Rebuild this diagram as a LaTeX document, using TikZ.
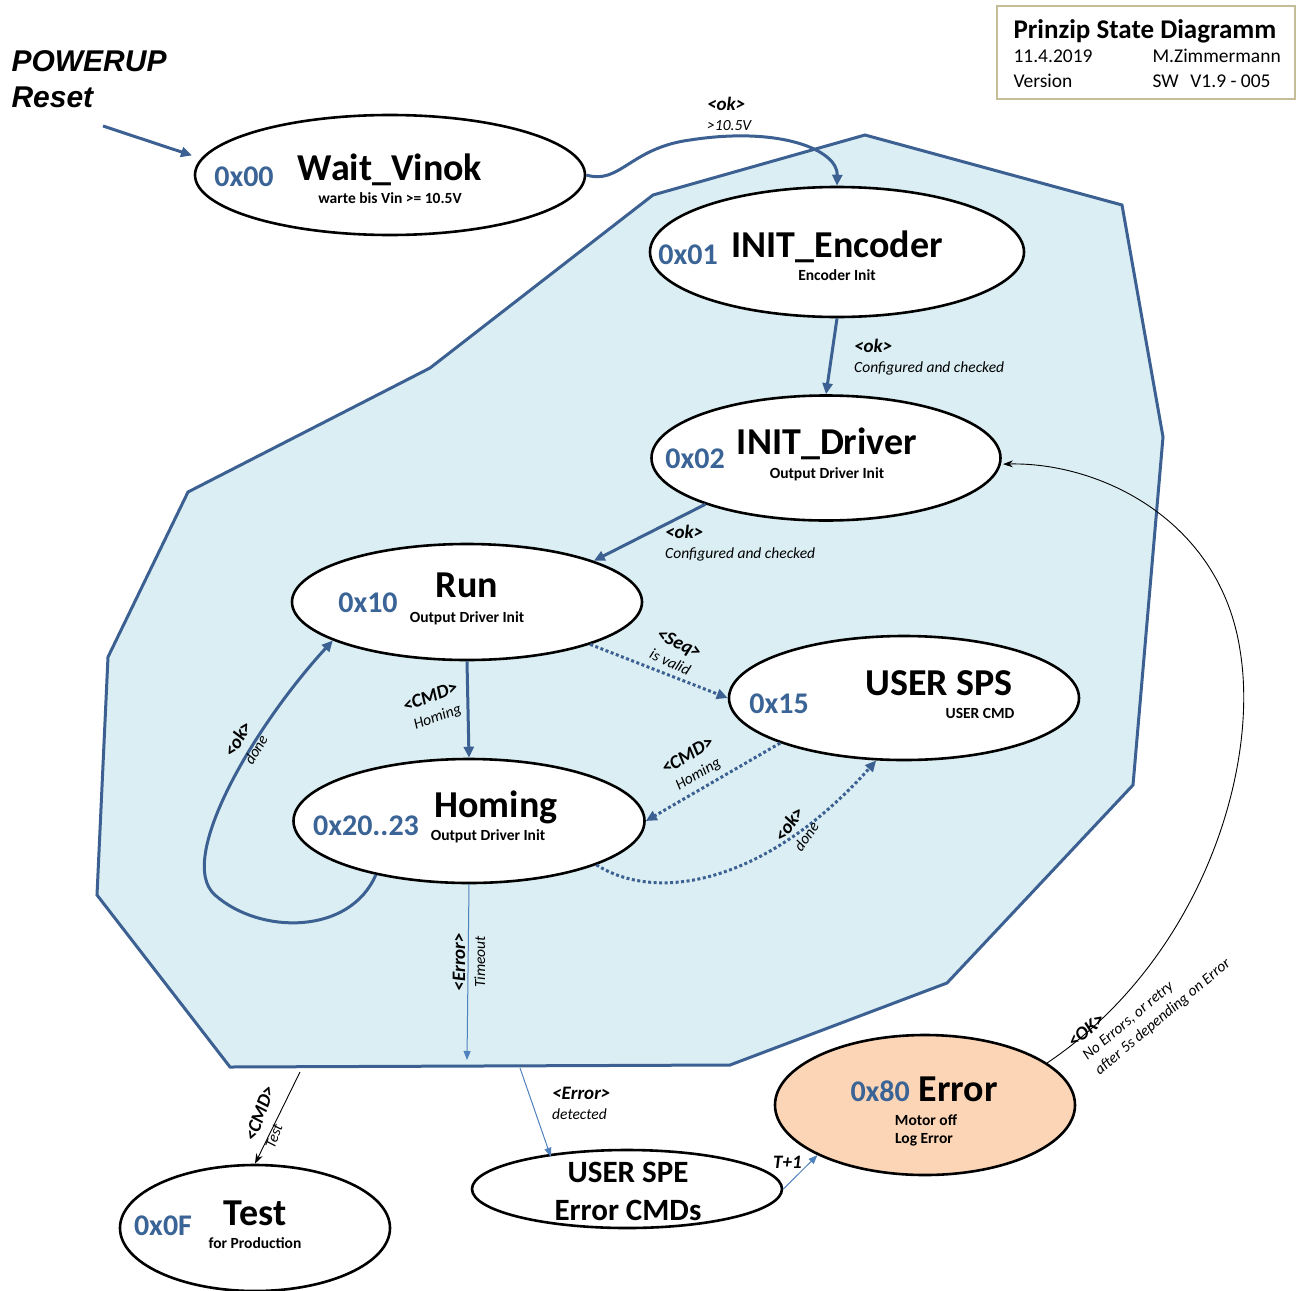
\documentclass[tikz,border=0pt]{standalone}
\usepackage{fontspec}
\setmainfont{Carlito}
\newfontfamily\arialfont{Liberation Sans}
\usetikzlibrary{shapes.geometric,arrows.meta}

\definecolor{linkblue}{RGB}{59,96,145}
\definecolor{hexblue}{RGB}{58,99,150}
\definecolor{zonefill}{RGB}{218,238,243}
\definecolor{thinblue}{RGB}{79,129,189}
\definecolor{errfill}{RGB}{251,213,181}
\definecolor{boxline}{RGB}{196,189,151}

% condition and remark of a transition
\newcommand{\cnd}[1]{{\fontsize{19}{20}\selectfont\bfseries\itshape #1}}
\newcommand{\nte}[1]{{\fontsize{15.5}{20}\selectfont\itshape #1}}

\begin{document}
\begin{tikzpicture}[x=1pt,y=-1pt,
    state/.style={ellipse, draw, line width=2.6pt, fill=white, inner sep=0pt},
    hexcode/.style={text=hexblue, font=\fontsize{30}{32}\selectfont\bfseries, anchor=base},
    stname/.style={font=\fontsize{38}{40}\selectfont\bfseries, anchor=base},
    stinfo/.style={font=\fontsize{15.5}{17}\selectfont\bfseries, anchor=base},
    lbl/.style={font=\fontsize{15.5}{20}\selectfont, inner sep=1pt, align=center},
    boxtext/.style={anchor=base west, font=\fontsize{19.5}{21}\selectfont},
    trans/.style={draw=linkblue, line width=3pt, -{Triangle[length=11pt,width=10pt]}},
    seqtrans/.style={trans, dash pattern=on 3pt off 2.5pt},
    thintrans/.style={draw=thinblue, line width=1pt, -{Triangle[length=9pt,width=7pt]}},
    blacktrans/.style={draw=black, line width=0.9pt, -{Stealth[length=10pt,width=7pt]}}]
  \useasboundingbox (0,0) rectangle (1300,1290);

  % Zone of the running states
  \draw[linkblue, line width=3pt, fill=zonefill]
    (865,135) -- (1122,205) -- (1163,437) -- (1133,785) -- (947,983)
    -- (730,1065) -- (230,1067) -- (97,895) -- (108,657) -- (188,492)
    -- (430,368) -- (653,195) -- cycle;

  % Title box
  \draw[boxline, line width=1.2pt, fill=white] (997,6) rectangle (1295,99);
  \node[anchor=base west, font=\fontsize{27}{29}\selectfont\bfseries] (boxTitle) at (1010,39) {Prinzip State Diagramm};
  \node[boxtext] (boxDate) at (1010,63) {11.4.2019};
  \node[boxtext] (boxAuthor) at (1149,63) {M.Zimmermann};
  \node[boxtext] (boxVer) at (1010,87) {Version};
  \node[boxtext] (boxSw) at (1149,87) {SW\hspace{0.6em}V1.9 - 005};

  % Power up
  \node[anchor=base west, font=\arialfont\fontsize{30}{32}\selectfont\bfseries\itshape] (pwrText) at (8,71) {POWERUP};
  \node[anchor=base west, font=\arialfont\fontsize{30}{32}\selectfont\bfseries\itshape] (rstText) at (8,107) {Reset};
  \coordinate (pwr) at (103,126);

  % States
  \node[state, minimum width=390pt, minimum height=120pt] (wait) at (390,175) {};
  \node[state, minimum width=374pt, minimum height=130pt] (enc) at (837,252) {};
  \node[state, minimum width=349pt, minimum height=125pt] (drv) at (826,458) {};
  \node[state, minimum width=350pt, minimum height=116pt] (run) at (467,602) {};
  \node[state, minimum width=350pt, minimum height=124pt] (sps) at (904,698) {};
  \node[state, minimum width=351pt, minimum height=124pt] (hom) at (469,821) {};
  \node[state, minimum width=270pt, minimum height=126pt] (tst) at (255,1228) {};
  \node[state, minimum width=310pt, minimum height=78pt] (spe) at (627,1189) {};
  \node[state, minimum width=300pt, minimum height=140pt, fill=errfill] (err) at (925,1105) {};

  % State texts
  \node[hexcode] (waitHex) at (244,186) {0x00};
  \node[stname] (waitName) at (390,180) {Wait\_Vinok};
  \node[stinfo] (waitInfo) at (390,203) {warte bis Vin >= 10.5V};

  \node[hexcode] (encHex) at (688,264) {0x01};
  \node[stname] (encName) at (837,257) {INIT\_Encoder};
  \node[stinfo] (encInfo) at (837,280) {Encoder Init};

  \node[hexcode] (drvHex) at (695,468) {0x02};
  \node[stname] (drvName) at (827,454) {INIT\_Driver};
  \node[stinfo] (drvInfo) at (827,478) {Output Driver Init};

  \node[hexcode] (runHex) at (368,612) {0x10};
  \node[stname] (runName) at (467,597) {Run};
  \node[stinfo] (runInfo) at (467,622) {Output Driver Init};

  \node[hexcode] (spsHex) at (779,713) {0x15};
  \node[stname] (spsName) at (939,695) {USER SPS};
  \node[stinfo] (spsInfo) at (980,718) {USER CMD};

  \node[hexcode] (homHex) at (366,835) {0x20..23};
  \node[stname] (homName) at (496,817) {Homing};
  \node[stinfo] (homInfo) at (488,840) {Output Driver Init};

  \node[hexcode] (tstHex) at (163,1235) {0x0F};
  \node[stname] (tstName) at (255,1225) {Test};
  \node[stinfo] (tstInfo) at (255,1248) {for Production};

  \node[stname, font=\fontsize{31}{33}\selectfont\bfseries] (speName) at (628,1182) {USER SPE};
  \node[stname, font=\fontsize{31}{33}\selectfont\bfseries] (speCmd) at (628,1220) {Error CMDs};

  \node[stname] (errName) at (924,1101) {\textcolor{hexblue}{\fontsize{30}{32}\selectfont 0x80} Error};
  \node[stinfo] (errInfo) at (926,1125) {Motor off};
  \node[stinfo] (errLog) at (924,1143) {Log Error};

  % Transitions
  \draw[trans] (pwr) -- ([xshift=-12pt]wait.174);
  \draw[trans] (wait.east) .. controls (620,185) and (630,148) .. (690,140)
    .. controls (780,126) and (838,150) .. (enc.north);
  \draw[trans] (enc.south) -- (drv.north);
  \draw[trans] (drv.201) -- (run.18);
  \draw[trans] (run.south) -- (hom.north);
  \draw[seqtrans] (run.341) -- (sps.west);
  \draw[seqtrans] (sps.200) -- (hom.east);
  \draw[seqtrans] (hom.341) .. controls (660,905) and (770,880) .. (sps.246);
  \draw[trans] (hom.210) .. controls (350,935) and (260,935) .. (215,895)
    .. controls (175,860) and (255,725) .. (run.196);

  \coordinate (zoneIn) at (467,1060);
  \coordinate (zoneOut) at (520,1068);
  \coordinate (zoneTest) at (300,1072);
  \draw[thintrans] (hom.south) -- (zoneIn);
  \draw[thintrans] (zoneOut) -- ([shift={(-8pt,-4pt)}]spe.152);
  \draw[blacktrans] (zoneTest) -- (tst.north);
  \draw[thintrans] (spe.east) -- (err.205);
  \draw[blacktrans] (err.19) .. controls (1200,960) and (1260,770) .. (1240,650)
    .. controls (1220,520) and (1100,462) .. ([xshift=2pt]drv.-2);

  % Transition labels
  \node[lbl, align=left, anchor=west] (lblVin) at (706,114) {\cnd{<ok>}\\\nte{>10.5V}};
  \node[lbl, align=left, anchor=west] (lblCfg2) at (853,357) {\cnd{<ok>}\\\nte{Configured and checked}};
  \node[lbl, align=left, anchor=west] (lblCfg3) at (664,543) {\cnd{<ok>}\\\nte{Configured and checked}};
  \node[lbl, rotate=20] (lblHom1) at (434,707) {\cnd{<CMD>}\\\nte{Homing}};
  \node[lbl, rotate=-25] (lblSeq) at (675,652) {\cnd{<Seq>}\\\nte{is valid}};
  \node[lbl, rotate=30] (lblHom2) at (693,765) {\cnd{<CMD>}\\\nte{Homing}};
  \node[lbl, rotate=55] (lblDone4) at (797,830) {\cnd{<ok>}\\\nte{done}};
  \node[lbl, rotate=60] (lblDone5) at (246,744) {\cnd{<ok>}\\\nte{done}};
  \node[lbl, rotate=90] (lblTime) at (469,962) {\cnd{<Error>}\\\nte{Timeout}};
  \node[lbl, align=left, anchor=west] (lblDet) at (551,1103) {\cnd{<Error>}\\\nte{detected}};
  \node[lbl, align=left, rotate=70] (lblTest) at (269,1117) {\cnd{<CMD>}\\\nte{Test}};
  \node[lbl, anchor=west] (lblT) at (772,1162) {\cnd{T+1}};
  \node[lbl, rotate=40] (lblOk6) at (1086,1030) {\cnd{<OK>}};
  \node[lbl, align=left, rotate=40, font=\fontsize{15.5}{19}\selectfont] (lblRetry) at (1157,1010)
    {\nte{No Errors, or retry}\\\nte{after 5s depending on Error}};
\end{tikzpicture}
\end{document}
